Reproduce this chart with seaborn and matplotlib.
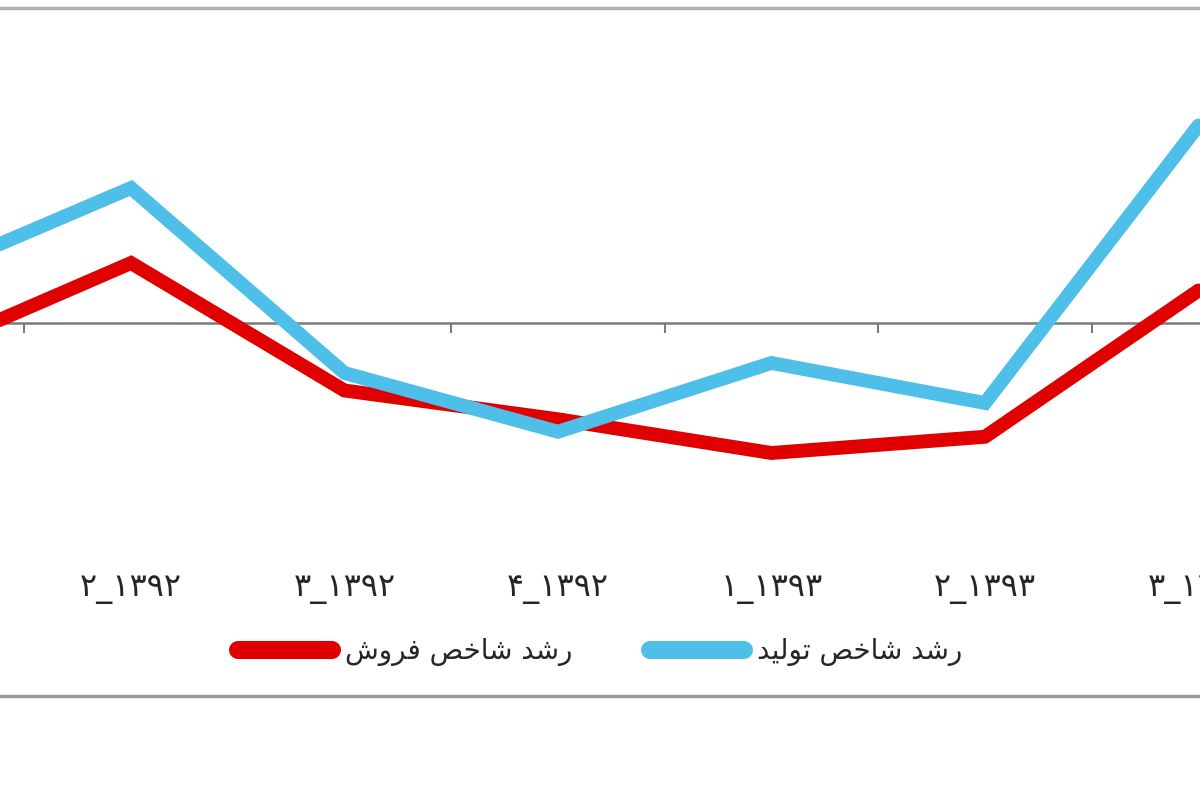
import pandas as pd
import numpy as np
import matplotlib
matplotlib.use('Agg')
import matplotlib.pyplot as plt
import seaborn as sns

# quarter labels (visual order, Persian digits)
quarters = ['۱_۱۳۹۲', '۲_۱۳۹۲', '۳_۱۳۹۲', '۴_۱۳۹۲', '۱_۱۳۹۳', '۲_۱۳۹۳', '۳_۱۳۹۳']
# growth of sales index / production index
sales_growth = [-1.3, 2.4, -2.7, -3.85, -5.2, -4.55, 1.3]
prod_growth = [1.75, 5.4, -2.0, -4.35, -1.6, -3.2, 7.9]

# legend labels, pre-shaped (presentation forms, visual order)
lbl_sales = 'ﺵﻭﺮﻓ ﺺﺧﺎﺷ ﺪﺷﺭ'   # رشد شاخص فروش
lbl_prod = 'ﺪﻴﻟﻮﺗ ﺺﺧﺎﺷ ﺪﺷﺭ'   # رشد شاخص تولید

red = '#e00000'
blue = '#4dbfe8'

df = pd.concat([
    pd.DataFrame({'q': np.arange(len(quarters)), 'val': sales_growth, 'series': lbl_sales}),
    pd.DataFrame({'q': np.arange(len(quarters)), 'val': prod_growth, 'series': lbl_prod}),
], ignore_index=True)

sns.set_style('white')
plt.rcParams['font.family'] = ['DejaVu Sans']

fig = plt.figure(figsize=(12, 8), dpi=100)
ax = fig.add_axes([0, 1 - 697 / 800, 1, 689 / 800])

sns.lineplot(data=df, x='q', y='val', hue='series', palette=[red, blue],
             linewidth=10, ax=ax, legend=False, sort=False)
for ln in ax.lines:
    ln.set_solid_joinstyle('miter')

# axis through zero, ticks between categories
for s in ['left', 'right']:
    ax.spines[s].set_visible(False)
ax.spines['bottom'].set_position(('data', 0))
ax.spines['bottom'].set_color('#7a7a7a')
ax.spines['bottom'].set_linewidth(1.8)
ax.spines['bottom'].set_zorder(0)
ax.spines['top'].set_color('#b0b0b0')
ax.spines['top'].set_linewidth(2.5)

ax.set_yticks([])
ax.set_xticks(np.arange(len(quarters)))
ax.set_xticklabels(quarters, fontsize=23)
ax.set_xticks(np.arange(len(quarters) - 1) + 0.5, minor=True)
ax.tick_params(axis='x', which='both', bottom=True)
ax.tick_params(axis='x', which='major', length=0, pad=180)
ax.tick_params(axis='x', which='minor', length=7, width=1.5, color='#7a7a7a', direction='out')
ax.set_xlabel('')
ax.set_ylabel('')

# the picture is a crop of a wider chart
ax.set_xlim(1 - 131 / 213.5, 1 + 1069 / 213.5)
ax.set_ylim((323 - 697) / 25, (323 - 8) / 25)

# bottom frame line
fig.add_artist(plt.Line2D([0, 1], [1 - 696 / 800] * 2, transform=fig.transFigure,
                          color='#9a9a9a', linewidth=2.5))

handles = [plt.Line2D([], [], color=red, linewidth=13, solid_capstyle='round'),
           plt.Line2D([], [], color=blue, linewidth=13, solid_capstyle='round')]
fig.legend(handles, [lbl_sales, lbl_prod], loc='center', bbox_to_anchor=(0.5, 1 - 652 / 800),
           ncol=2, frameon=False, fontsize=20, handlelength=3.4, handletextpad=0.45,
           columnspacing=2.8)

fig.savefig('out.png', dpi=100)
